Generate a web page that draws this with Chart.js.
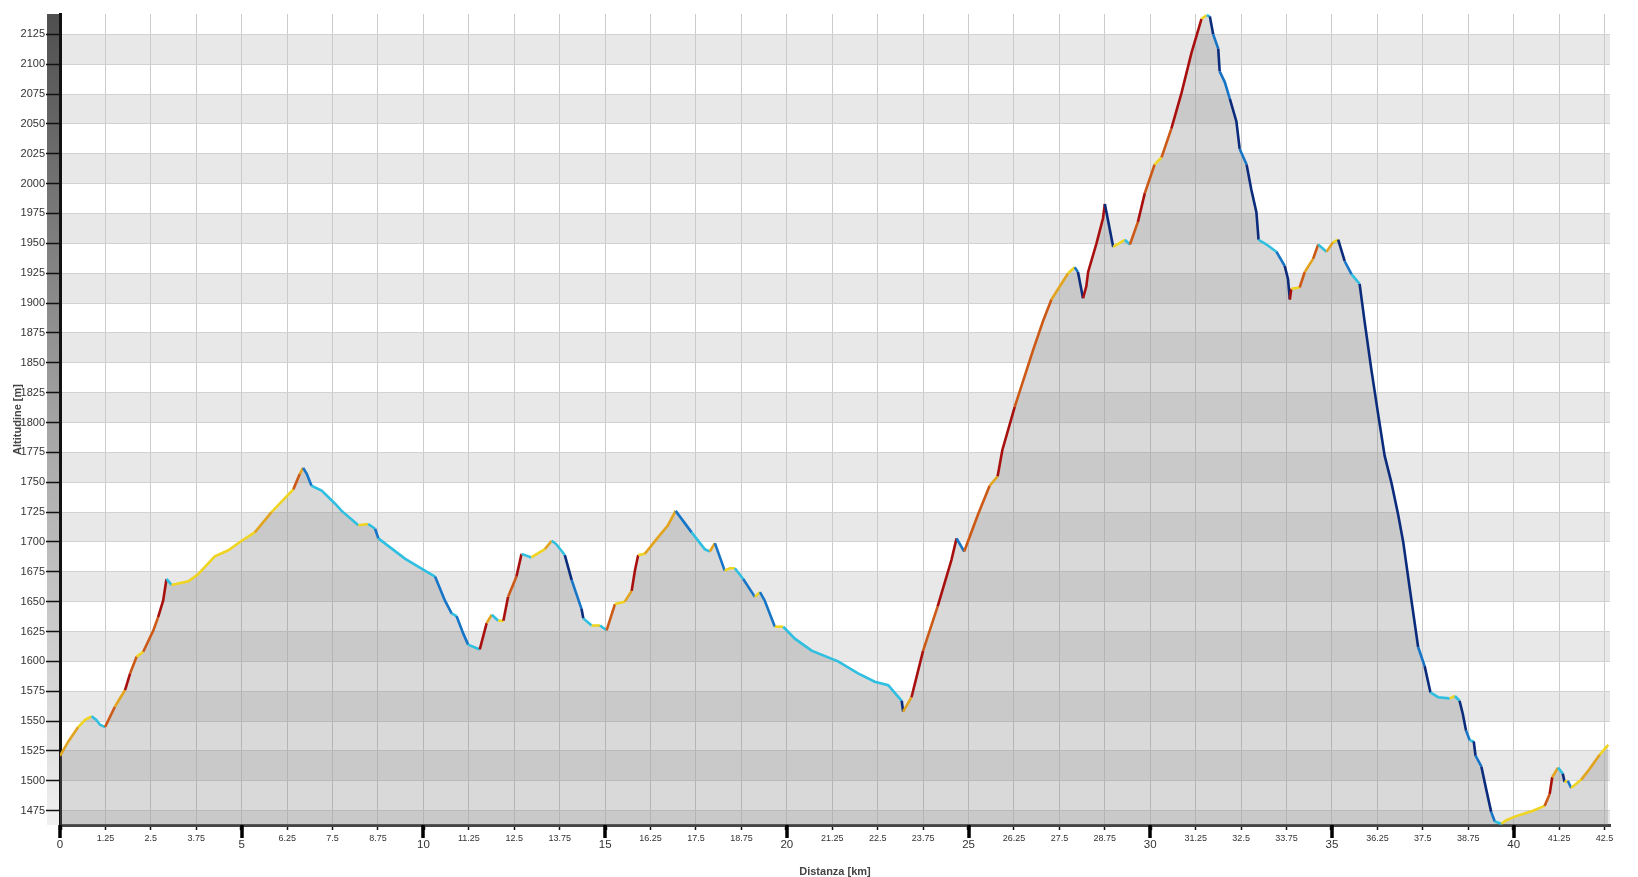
<!DOCTYPE html>
<html lang="it">
<head>
<meta charset="utf-8">
<title>Profilo altimetrico</title>
<script src="https://cdn.jsdelivr.net/npm/chart.js@4.4.1/dist/chart.umd.min.js"></script>
<style>
  html, body { margin: 0; padding: 0; background: #fff; }
  canvas { display: block; }
</style>
</head>
<body>
<canvas id="profilo" width="1638" height="877"></canvas>
<script>
// =============================================================================
// Dati – profilo altimetrico (distanza in km, altitudine in m)
// =============================================================================
const DIST = [
  0.00, 0.23, 0.50, 0.69, 0.87, 1.00, 1.10, 1.24, 1.51, 1.79, 1.93, 2.11, 2.29, 2.57, 2.70, 2.84,
  2.93, 3.07, 3.53, 3.80, 4.26, 4.63, 5.00, 5.36, 5.82, 6.42, 6.60, 6.69, 6.79, 6.92, 7.20, 7.57,
  7.75, 8.21, 8.48, 8.67, 8.76, 9.49, 10.04, 10.32, 10.59, 10.78, 10.91, 11.10, 11.23, 11.55, 11.74, 11.88,
  12.06, 12.20, 12.33, 12.56, 12.70, 12.97, 13.34, 13.53, 13.66, 13.89, 14.08, 14.35, 14.40, 14.63, 14.86, 15.04,
  15.27, 15.54, 15.73, 15.82, 15.91, 16.09, 16.46, 16.73, 16.94, 17.38, 17.74, 17.88, 18.02, 18.29, 18.43, 18.57,
  18.80, 19.12, 19.26, 19.39, 19.67, 19.90, 20.22, 20.68, 21.41, 21.96, 22.42, 22.79, 23.16, 23.20, 23.43, 23.75,
  24.15, 24.53, 24.67, 24.88, 25.26, 25.58, 25.80, 25.93, 26.27, 26.78, 27.05, 27.28, 27.74, 27.92, 28.01, 28.15,
  28.24, 28.29, 28.52, 28.70, 28.75, 28.98, 29.30, 29.44, 29.66, 29.85, 30.12, 30.31, 30.58, 30.86, 31.13, 31.41,
  31.55, 31.64, 31.73, 31.87, 31.91, 32.05, 32.19, 32.37, 32.46, 32.65, 32.78, 32.92, 32.98, 33.20, 33.47, 33.70,
  33.79, 33.84, 33.88, 34.11, 34.25, 34.48, 34.62, 34.85, 35.03, 35.17, 35.35, 35.54, 35.76, 35.90, 36.08, 36.27,
  36.45, 36.64, 36.82, 36.96, 37.14, 37.37, 37.55, 37.71, 37.92, 38.24, 38.38, 38.51, 38.60, 38.69, 38.79, 38.90,
  38.95, 39.11, 39.25, 39.38, 39.48, 39.66, 39.80, 40.03, 40.53, 40.85, 40.99, 41.06, 41.22, 41.35, 41.40, 41.49,
  41.58, 41.86, 42.09, 42.37, 42.60
];
const ALT = [
  1521, 1533, 1545, 1551, 1554, 1551, 1547, 1545, 1562, 1576, 1590, 1604, 1608, 1626, 1637, 1651,
  1669, 1664, 1667, 1673, 1688, 1693, 1701, 1708, 1725, 1744, 1757, 1762, 1757, 1747, 1743, 1732,
  1726, 1714, 1715, 1711, 1703, 1686, 1676, 1671, 1651, 1640, 1638, 1623, 1614, 1610, 1632, 1639,
  1634, 1634, 1654, 1671, 1690, 1687, 1694, 1701, 1698, 1689, 1668, 1644, 1636, 1630, 1630, 1626,
  1648, 1650, 1659, 1676, 1689, 1690, 1704, 1714, 1726, 1708, 1694, 1692, 1699, 1676, 1678, 1678,
  1669, 1654, 1658, 1651, 1629, 1629, 1619, 1609, 1600, 1590, 1583, 1580, 1567, 1558, 1570, 1609,
  1646, 1685, 1703, 1692, 1723, 1747, 1755, 1777, 1813, 1861, 1885, 1903, 1925, 1930, 1926, 1904,
  1914, 1926, 1950, 1971, 1983, 1947, 1953, 1949, 1968, 1992, 2016, 2022, 2046, 2076, 2109, 2138,
  2141, 2140, 2125, 2113, 2094, 2085, 2071, 2052, 2029, 2016, 1995, 1976, 1953, 1949, 1943, 1931,
  1920, 1903, 1912, 1913, 1926, 1937, 1949, 1943, 1951, 1953, 1935, 1924, 1916, 1884, 1845, 1807,
  1772, 1749, 1723, 1700, 1661, 1612, 1596, 1574, 1570, 1569, 1571, 1567, 1556, 1542, 1534, 1533,
  1521, 1512, 1492, 1474, 1466, 1464, 1467, 1470, 1475, 1479, 1489, 1503, 1511, 1506, 1499, 1500,
  1494, 1501, 1510, 1522, 1530
];

// Assi
const X_MIN = 0, X_MAX = 42.65, X_STEP = 1.25, X_MAJOR = 5;
const Y_MIN = 1463, Y_MAX = 2142, Y_STEP = 25;

// =============================================================================
// Helpers
// =============================================================================
const FONT = 'Liberation Sans, Arial, sans-serif';

function isMajor(v) {
  return Math.abs(v % X_MAJOR) < 1e-9;
}

// colore del tratto in base alla pendenza (%)
function gradeColor(p0, p1) {
  const g = (p1.y - p0.y) / ((p1.x - p0.x) * 1000) * 100;
  if (g > 10) return '#a8100e';
  if (g > 6) return '#cc5a16';
  if (g > 3.5) return '#e2a41e';
  if (g >= 0) return '#efd421';
  if (g > -4) return '#2fbfe0';
  if (g > -10) return '#1675c6';
  return '#0b2b7c';
}

const points = DIST.map((d, i) => ({ x: d, y: ALT[i] }));

// fasce orizzontali, barra laterale e tacche principali
const bandsPlugin = {
  id: 'bands',
  beforeDraw(chart) {
    const { ctx, chartArea: a, scales: { y } } = chart;
    ctx.save();
    const g = ctx.createLinearGradient(0, a.top, 0, a.bottom);
    g.addColorStop(0, '#4f4f4f');
    g.addColorStop(0.5, '#a3a3a3');
    g.addColorStop(1, '#f0f0f0');
    ctx.fillStyle = g;
    ctx.fillRect(a.left - 13, a.top, 12, a.bottom - a.top);

    ctx.fillStyle = '#e8e8e8';
    for (let v = Math.floor(y.min / 50) * 50; v < y.max; v += 50) {
      const top = y.getPixelForValue(Math.min(v + 25, y.max));
      const bot = y.getPixelForValue(Math.max(v, y.min));
      if (bot > top) ctx.fillRect(a.left, top, a.right - a.left, bot - top);
    }
    ctx.restore();
  },
  afterDraw(chart) {
    const { ctx, chartArea: a, scales: { x } } = chart;
    ctx.save();
    ctx.strokeStyle = '#000';
    ctx.lineWidth = 3.5;
    x.ticks.forEach(t => {
      if (!isMajor(t.value)) return;
      const px = Math.round(x.getPixelForValue(t.value));
      ctx.beginPath();
      ctx.moveTo(px, a.bottom);
      ctx.lineTo(px, a.bottom + 13);
      ctx.stroke();
    });
    ctx.restore();
  }
};

// =============================================================================
// Grafico
// =============================================================================
new Chart(document.getElementById('profilo'), {
  type: 'line',
  data: {
    datasets: [
      {
        // linea colorata per pendenza
        data: points,
        borderWidth: 2.6,
        borderColor: '#efd421',
        pointRadius: 0,
        fill: false,
        segment: { borderColor: c => gradeColor(c.p0.parsed, c.p1.parsed) }
      },
      {
        // area sotto il profilo
        data: points,
        borderWidth: 0,
        borderColor: 'rgba(0,0,0,0)',
        pointRadius: 0,
        fill: 'start',
        backgroundColor: 'rgba(130, 130, 130, 0.3)'
      }
    ]
  },
  options: {
    responsive: false,
    animation: false,
    layout: { padding: { top: 14, right: 28, left: 0, bottom: 0 } },
    plugins: {
      legend: { display: false },
      tooltip: { enabled: false }
    },
    scales: {
      x: {
        type: 'linear',
        min: X_MIN,
        max: X_MAX,
        afterFit: s => { s.height = 52; },
        border: { color: '#454545', width: 3 },
        grid: {
          color: '#cbcbcb',
          tickColor: '#111',
          tickLength: 5,
          tickWidth: c => (c.tick && isMajor(c.tick.value)) ? 3.5 : 1.5
        },
        ticks: {
          stepSize: X_STEP,
          includeBounds: false,
          autoSkip: false,
          maxRotation: 0,
          padding: 3,
          color: '#333',
          font: c => (c.tick && isMajor(c.tick.value))
            ? { family: FONT, size: 11.5, lineHeight: 2.1 }
            : { family: FONT, size: 9, lineHeight: 1.2 },
          callback: v => String(v)
        },
        title: {
          display: true,
          text: 'Distanza [km]',
          color: '#444',
          font: { family: FONT, size: 11, weight: 'bold' },
          padding: { top: 0, bottom: -2 }
        }
      },
      y: {
        min: Y_MIN,
        max: Y_MAX,
        afterFit: s => { s.width = 60; },
        border: { color: '#111', width: 3 },
        grid: { color: '#d2d2d2', tickColor: '#111', tickLength: 14, tickWidth: 1.5 },
        ticks: {
          stepSize: Y_STEP,
          includeBounds: false,
          autoSkip: false,
          padding: 1,
          color: '#333',
          font: { family: FONT, size: 11 },
          callback: v => String(v)
        },
        title: {
          display: true,
          text: 'Altitudine [m]',
          color: '#444',
          font: { family: FONT, size: 11, weight: 'bold' },
          padding: { top: 11, bottom: 0 }
        }
      }
    }
  },
  plugins: [bandsPlugin]
});
</script>
</body>
</html>
